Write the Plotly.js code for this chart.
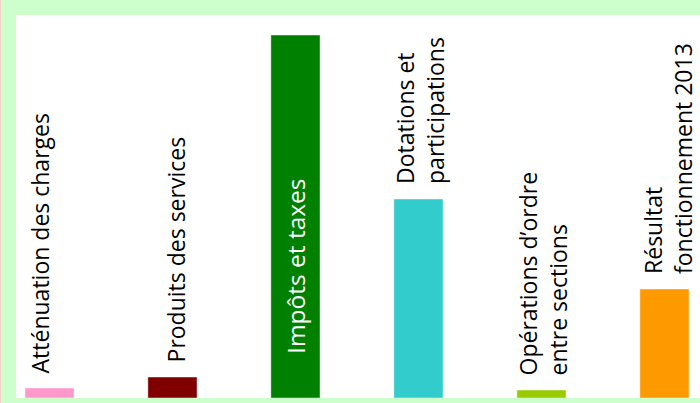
<!DOCTYPE html>
<html>
<head>
<meta charset="utf-8">
<script src="https://cdn.plot.ly/plotly-3.0.1.min.js"></script>
<style>
  html, body { margin: 0; padding: 0; background: #f6cfc6; }
  #chart { width: 699px; height: 403px; margin-left: 1px; }
</style>
</head>
<body>
<div id="chart"></div>
<script>
// Data (arbitrary units)
const categories = [
  "Atténuation des charges",
  "Produits des services",
  "Impôts et taxes",
  "Dotations et<br>participations",
  "Opérations d’ordre<br>entre sections",
  "Résultat<br>fonctionnement 2013"
];
const values = [10, 21, 363, 199, 8, 109];
const barColors = ["#ff99cc", "#800000", "#008000", "#33cccc", "#99cc00", "#ff9900"];

// label styling (not data)
const labelInside = [false, false, true, false, false, false];
const labelXShift = [-9, 4, 0, 1, 2, 3];

const xIdx = categories.map((_, i) => i);

const trace = {
  type: "bar",
  x: xIdx,
  y: values,
  marker: { color: barColors, line: { color: "rgba(255,255,255,0.45)", width: 1 } },
  hoverinfo: "skip"
};

const annotations = categories.map((c, i) => {
  if (labelInside[i]) {
    return {
      x: i, y: 0, xref: "x", yref: "y",
      text: c, textangle: -90, showarrow: false,
      xanchor: "center", yanchor: "bottom", yshift: 42,
      font: { family: "Open Sans, sans-serif", size: 24.5, color: "#ffffff" }
    };
  }
  return {
    x: i, y: values[i], xref: "x", yref: "y",
    text: c, textangle: -90, showarrow: false, align: "left",
    xanchor: "center", yanchor: "bottom", yshift: 13, xshift: labelXShift[i],
    font: { family: "Open Sans, sans-serif", size: 23, color: "#000000" }
  };
});

const layout = {
  width: 699, height: 403,
  paper_bgcolor: "#ccffcc",
  plot_bgcolor: "#ffffff",
  margin: { l: 15, r: 0, t: 15, b: 5, pad: 0 },
  bargap: 0.6,
  showlegend: false,
  xaxis: { range: [-0.272, 5.289], showticklabels: false, showgrid: false, zeroline: false, ticks: "", fixedrange: true },
  yaxis: { range: [0, 383], showticklabels: false, showgrid: false, zeroline: false, ticks: "", fixedrange: true },
  annotations: annotations
};

Plotly.newPlot("chart", [trace], layout, { displayModeBar: false, staticPlot: true });
</script>
</body>
</html>
